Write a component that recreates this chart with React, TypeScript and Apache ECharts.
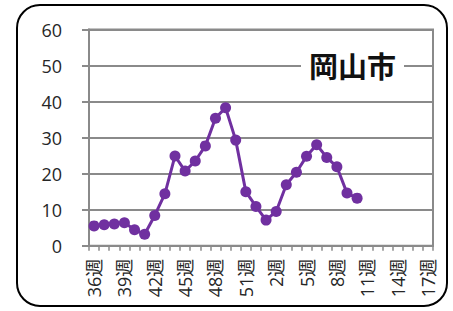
import React, { useEffect, useRef } from "react";
import * as echarts from "echarts";

const weeks: string[] = [
  "36週","37週","38週","39週","40週","41週","42週","43週","44週","45週","46週","47週","48週","49週","50週","51週","52週",
  "1週","2週","3週","4週","5週","6週","7週","8週","9週","10週","11週","12週","13週","14週","15週","16週","17週",
];
const values: (number | null)[] = [
  5.5, 5.8, 6.0, 6.4, 4.4, 3.2, 8.4, 14.4, 24.9, 20.7, 23.5, 27.7, 35.4, 38.3, 29.3, 15.0, 10.9,
  7.1, 9.5, 16.9, 20.4, 24.8, 28.0, 24.5, 21.9, 14.6, 13.2, null, null, null, null, null, null, null,
];
const yTicks = { min: 0, max: 60, interval: 10 };
const cityName = "岡山市";

export default function App() {
  const ref = useRef<HTMLDivElement>(null);
  useEffect(() => {
    if (!ref.current) return;
    const chart = echarts.init(ref.current, null, { renderer: "svg" });
    const gray = "#8a8a8a";
    chart.setOption({
      animation: false,
      backgroundColor: "#fff",
      grid: {
        left: 89,
        right: 20,
        top: 29.5,
        bottom: 65.3,
        containLabel: false,
        outerBoundsMode: "none",
        show: true,
        borderColor: gray,
        borderWidth: 2,
      },
      xAxis: {
        type: "category",
        data: weeks,
        boundaryGap: true,
        axisLine: { show: true, lineStyle: { color: gray, width: 2 } },
        axisTick: { show: true, interval: 0, length: 5, lineStyle: { color: gray, width: 1.5 } },
        axisLabel: {
          interval: 2,
          rotate: 90,
          fontSize: 18,
          margin: 13,
          color: "#262626",
          fontFamily: "Open Sans, Noto Sans CJK JP, sans-serif",
        },
        splitLine: { show: false },
      },
      yAxis: {
        type: "value",
        min: yTicks.min,
        max: yTicks.max,
        interval: yTicks.interval,
        axisLine: { show: true, lineStyle: { color: gray, width: 2 } },
        axisTick: { show: true, length: 7, lineStyle: { color: gray, width: 2 } },
        axisLabel: {
          fontSize: 18,
          margin: 27,
          color: "#262626",
          fontFamily: "Open Sans, sans-serif",
        },
        splitLine: { show: true, lineStyle: { color: gray, width: 2 } },
      },
      series: [
        {
          type: "line",
          data: values,
          symbol: "circle",
          symbolSize: 11,
          showSymbol: true,
          showAllSymbol: true,
          itemStyle: { color: "#7030A0" },
          lineStyle: { color: "#7030A0", width: 3 },
          connectNulls: false,
        },
      ],
      graphic: [
        {
          type: "rect",
          shape: { x: 17, y: 5, width: 430, height: 301, r: 23 },
          style: { fill: "none", stroke: "#000", lineWidth: 2 },
          z: 100,
        },
        {
          type: "text",
          x: 352.5,
          y: 65,
          style: {
            text: cityName,
            fontSize: 29,
            fontWeight: "bold",
            fontFamily: "Noto Sans CJK JP, sans-serif",
            fill: "#111",
            align: "center",
            verticalAlign: "middle",
            backgroundColor: "#fff",
            padding: [2, 8, 2, 8],
          },
          z: 50,
        },
      ],
    });
    return () => chart.dispose();
  }, []);
  return (
    <div
      ref={ref}
      style={{ position: "absolute", left: 0, top: 0, width: 453, height: 311 }}
    />
  );
}
